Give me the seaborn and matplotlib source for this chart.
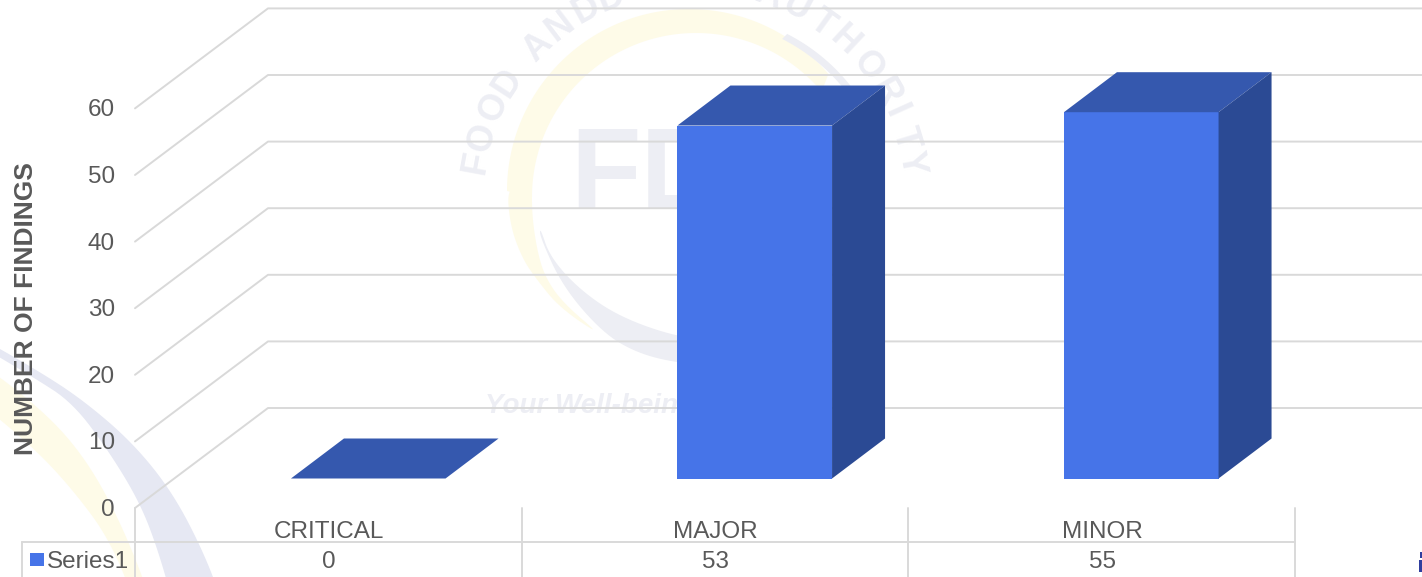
import numpy as np
import pandas as pd
import seaborn as sns
import matplotlib.pyplot as plt
from matplotlib.patches import Polygon, Rectangle

categories = ['CRITICAL', 'MAJOR', 'MINOR']
findings = [0, 53, 55]
y_ticks = [0, 10, 20, 30, 40, 50, 60]
series_name = 'Series1'
y_title = 'NUMBER OF FINDINGS'

FRONT = '#4674E8'
TOP = '#3558AE'
SIDE = '#2B4A94'
GRID = '#D9D9D9'
TEXT = '#595959'
LAVENDER = '#E6E8F3'
YELLOW = '#FEFBE8'
MARK = '#EDEEF4'

W, H = 1422, 577
PX_PER_UNIT = 6.66
CAT_W = 386.5

sns.set_theme(style='white')
plt.rcParams['font.family'] = ['Liberation Sans', 'DejaVu Sans']

fig = plt.figure(figsize=(W / 100, H / 100), dpi=100)

# background axes is in plain pixels, for the wall, table and watermark
bg = fig.add_axes([0, 0, 1, 1])
bg.set_xlim(0, W)
bg.set_ylim(H, 0)
bg.axis('off')


def arc(cx, cy, r, a1, a2):
    t = np.radians(np.linspace(a1, a2, 120))
    return np.column_stack([cx + r * np.cos(t), cy + r * np.sin(t)])


def blob(pts, color, rounds=3):
    # corner cutting so the hand-read outlines come out curved
    pts = np.asarray(pts, dtype=float)
    for _ in range(rounds):
        nxt = np.roll(pts, -1, axis=0)
        pts = np.column_stack([0.75 * pts + 0.25 * nxt, 0.25 * pts + 0.75 * nxt]).reshape(-1, 2)
    bg.add_patch(Polygon(pts, closed=True, color=color, lw=0, zorder=1))


# watermark: logo ring and swooshes
blob(np.vstack([arc(689, 191, 182, 180, 320), arc(696, 197, 164, 180, 320)[::-1]]), YELLOW, rounds=0)
blob([(507, 185), (510, 225), (522, 258), (537, 280), (560, 308), (603, 337),
      (563, 303), (545, 277), (537, 250), (532, 215), (532, 185)], YELLOW)
blob([(540, 227), (550, 257), (580, 290), (620, 317), (677, 337), (720, 340),
      (720, 365), (677, 363), (637, 353), (603, 333), (563, 287), (540, 237)], MARK)
blob(np.vstack([arc(700, 205, 192, -63, -25), arc(695, 210, 192, -63, -25)[::-1]]), MARK, rounds=0)
blob([(-30, 332), (37, 370), (83, 400), (133, 443), (173, 493), (205, 555), (225, 610),
      (175, 610), (158, 550), (140, 503), (110, 453), (73, 403), (33, 377), (-30, 340)], LAVENDER)
blob([(-30, 355), (43, 410), (87, 460), (123, 527), (155, 610),
      (138, 610), (110, 540), (73, 490), (33, 447), (-30, 395)], YELLOW)
bg.add_patch(Rectangle((1419, 560), 3, 12, color='#2F3E9E', lw=0, zorder=1))
bg.add_patch(Rectangle((1420, 552), 2, 6, color='#2F3E9E', lw=0, zorder=1))

seal_letters = list('FOODANDDAUTHORITY')
seal_angles = [190.5, 197.3, 205.6, 213, 225, 232.8, 241, 248, 290,
               298, 305.7, 313, 321.9, 330, 335.7, 343, 349.5]
for letter, ang in zip(seal_letters, seal_angles):
    t = np.radians(ang)
    bg.text(693.5 + 221 * np.cos(t), 203 + 221 * np.sin(t), letter, color=MARK, fontsize=26,
            fontweight='bold', ha='center', va='center', rotation=-(ang - 270), zorder=1)
bg.text(570, 208, 'FDA', color=MARK, fontsize=83, fontweight='bold', ha='left', va='baseline', zorder=1)
bg.text(485, 406, 'Your Well-being, Our Priority', color=MARK, fontsize=20, fontweight='bold',
        style='italic', ha='left', va='center', zorder=1)

# 3d wall
x0, y0 = 135, 508
dx, dy = 133, 100
for v in y_ticks:
    y = y0 - v * PX_PER_UNIT
    bg.plot([x0, x0 + dx, W], [y, y - dy, y - dy], color=GRID, lw=1.4, zorder=2)
    bg.text(x0 - 20, y + 2, str(v), color=TEXT, fontsize=17.5, ha='right', va='center', zorder=5)

bg.text(26, 309, y_title, color=TEXT, fontsize=19, fontweight='bold', rotation=90,
        ha='center', va='center', zorder=5)

# data table under the chart
table_y = 542
edges = [x0 + CAT_W * i for i in range(len(categories) + 1)]
bg.plot([22, edges[-1]], [table_y, table_y], color=GRID, lw=1.4, zorder=2)
bg.plot([22, 22], [table_y, H], color=GRID, lw=1.4, zorder=2)
for e in edges:
    bg.plot([e, e], [y0, H], color=GRID, lw=1.4, zorder=2)
for i, (cat, val) in enumerate(zip(categories, findings)):
    xc = x0 + CAT_W * (i + 0.5) + 1
    bg.text(xc, 532, cat, color=TEXT, fontsize=17.5, ha='center', va='center', zorder=5)
    bg.text(xc, 562, str(val), color=TEXT, fontsize=17.5, ha='center', va='center', zorder=5)
bg.add_patch(Rectangle((30, 553), 14, 13, color=FRONT, lw=0, zorder=5))
bg.text(47, 562, series_name, color=TEXT, fontsize=17.5, ha='left', va='center', zorder=5)

# bars live on their own transparent axes, same size as the figure
ax = fig.add_axes([0, 0, 1, 1])
ax.patch.set_alpha(0)
df = pd.DataFrame({'category': categories, 'findings': findings})
sns.barplot(data=df, x='category', y='findings', color=FRONT, saturation=1, width=0.4,
            linewidth=0, ax=ax, zorder=3)
first_x = x0 + CAT_W / 2 + 40
floor_y = 478.5
ax.set_xlim(-first_x / CAT_W, (W - first_x) / CAT_W)
ax.set_ylim((floor_y - H) / PX_PER_UNIT, floor_y / PX_PER_UNIT)
ax.axis('off')

depth_x = 53 / CAT_W
depth_y = 40 / PX_PER_UNIT
for bar in list(ax.patches):
    l, w, h = bar.get_x(), bar.get_width(), bar.get_height()
    r = l + w
    ax.add_patch(Polygon([(l, h), (r, h), (r + depth_x, h + depth_y), (l + depth_x, h + depth_y)],
                         closed=True, color=TOP, lw=0, zorder=4))
    ax.add_patch(Polygon([(r, 0), (r + depth_x, depth_y), (r + depth_x, h + depth_y), (r, h)],
                         closed=True, color=SIDE, lw=0, zorder=4))

fig.savefig('out.png', dpi=100)
